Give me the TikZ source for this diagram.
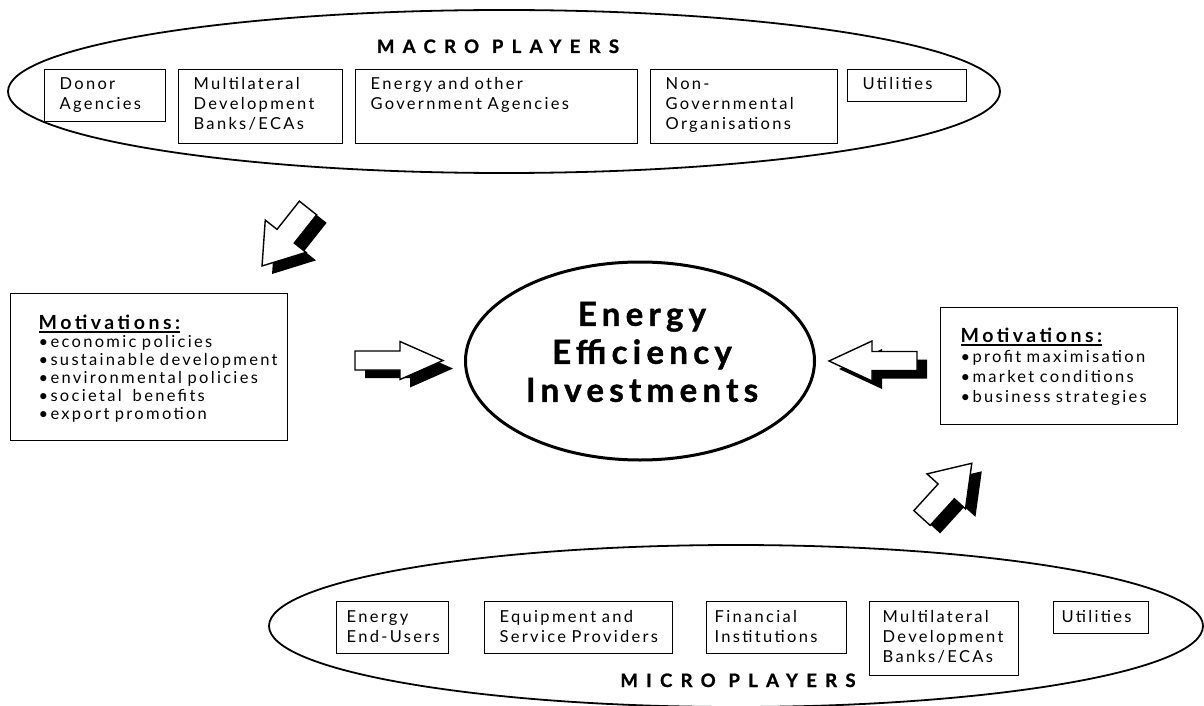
\documentclass[tikz,border=0pt]{standalone}
\usepackage{fontspec}
\setmainfont{Lato}
\newfontfamily\plainfont{Lato}[LetterSpace=14]
\newfontfamily\titlefont{Lato}[LetterSpace=45, BoldFeatures={FakeBold=1.2}]
\newfontfamily\headfont{Lato}[LetterSpace=18]
\newfontfamily\bigfont{Lato}[LetterSpace=16, BoldFeatures={FakeBold=1.2}]
\usetikzlibrary{shapes.geometric}

% left padding inside a framed text box
\newcommand{\padleft}[1]{\leftskip=#1pt\relax}
% thick underline for the headings
\newcommand{\ulbox}[1]{\setbox0=\hbox{#1}\rlap{\rule[-3.5pt]{\wd0}{1.8pt}}\box0}
\newcommand{\headline}[1]{{\headfont\bfseries\fontsize{19.5}{18}\selectfont\ulbox{#1}}}

% block arrow with a solid black drop shadow:
% #1,#2 tail centre, #3 direction, #4 length, #5 half shaft, #6 half head, #7 head length
\newcommand{\shadearrow}[7]{%
  \fill[black, shift={(#1+10,#2+8)}, rotate=#3]
    (0,-#5) -- ({#4-#7},-#5) -- ({#4-#7},-#6) -- (#4,0) -- ({#4-#7},#6) -- ({#4-#7},#5) -- (0,#5) -- cycle;
  \filldraw[fill=white, draw=black, line width=1.4pt, line join=miter, shift={(#1,#2)}, rotate=#3]
    (0,-#5) -- ({#4-#7},-#5) -- ({#4-#7},-#6) -- (#4,0) -- ({#4-#7},#6) -- ({#4-#7},#5) -- (0,#5) -- cycle;
}

\tikzset{
  frame/.style={draw, line width=1.3pt, anchor=north west, inner sep=0pt, align=left,
    font={\plainfont\fontsize{16.5}{20}\selectfont}},
  ring/.style={ellipse, draw, line width=1.8pt, inner sep=0pt},
  grouptitle/.style={anchor=base, inner sep=0pt,
    font={\titlefont\bfseries\fontsize{18.5}{20}\selectfont}},
  bigtitle/.style={align=center, inner sep=0pt,
    font={\bigfont\bfseries\fontsize{33}{38}\selectfont}},
  motbox/.style={frame, font={\plainfont\fontsize{16.5}{18}\selectfont}}
}

\begin{document}
\begin{tikzpicture}[x=1pt, y=-1pt]
\useasboundingbox (0,0) rectangle (1204,706);

% ---- macro players ----
\node[ring, minimum width=992pt, minimum height=163pt] (macro) at (504,91.5) {};
\node[grouptitle] (macrotitle) at (498,53) {MACRO PLAYERS};
\node[frame, text width=121pt, text height=20pt, text depth=32pt] (donor) at (44,69)
  {\padleft{15}Donor\\Agencies\par};
\node[frame, text width=164pt, text height=20pt, text depth=54pt] (mdbtop) at (178,69)
  {\padleft{15}Multilateral\\Development\\Banks/ECAs\par};
\node[frame, text width=282pt, text height=20pt, text depth=54pt] (govag) at (355,69)
  {\padleft{15}Energy and other\\Government Agencies\par};
\node[frame, text width=187pt, text height=20pt, text depth=54pt] (ngo) at (650,69)
  {\padleft{15}Non-\\Governmental\\Organisations\par};
\node[frame, text width=119pt, text height=20pt, text depth=12pt] (utiltop) at (847,69)
  {\padleft{15}Utilities\par};

% ---- centre ----
\node[ring, line width=3pt, minimum width=349pt, minimum height=198pt] (eei) at (640,361) {};
\node[bigtitle] (eeitext) at (642,352) {Energy\\Efficiency\\Investments};

% ---- motivations ----
\node[motbox, text width=277pt, text height=36pt, text depth=111pt] (motmacro) at (10,293)
  {\padleft{28}\headline{Motivations:}\\
   \textbullet economic policies\\
   \textbullet sustainable development\\
   \textbullet environmental policies\\
   \textbullet societal\ \ benefits\\
   \textbullet export promotion\par};
\node[frame, text width=237pt, text height=35pt, text depth=82pt] (motmicro) at (940,307)
  {\padleft{20}\headline{Motivations:}\\
   \textbullet profit maximisation\\
   \textbullet market conditions\\
   \textbullet business strategies\par};

% ---- arrows ----
\shadearrow{308}{208}{-128.4}{74}{11}{26}{38}
\shadearrow{355}{360.5}{0}{88}{9.5}{19}{43}
\shadearrow{917}{361}{180}{88}{9.5}{20}{43}
\shadearrow{922}{518}{47.7}{74}{11}{26}{38}

% ---- micro players ----
\node[ring, minimum width=934pt, minimum height=162pt] (micro) at (736,626) {};
\node[grouptitle] (microtitle) at (738,687) {MICRO PLAYERS};
\node[frame, text width=112pt, text height=21pt, text depth=31pt] (endusers) at (336,601)
  {\padleft{10}Energy\\End-Users\par};
\node[frame, text width=188pt, text height=21pt, text depth=31pt] (equip) at (484,601)
  {\padleft{15}Equipment and\\Service Providers\par};
\node[frame, text width=140pt, text height=21pt, text depth=31pt] (fin) at (706,601)
  {\padleft{8}Financial\\Institutions\par};
\node[frame, text width=149pt, text height=21pt, text depth=53pt] (mdbbot) at (869,601)
  {\padleft{13}Multilateral\\Development\\Banks/ECAs\par};
\node[frame, text width=95pt, text height=21pt, text depth=11pt] (utilbot) at (1053,601)
  {\padleft{8}Utilities\par};
\end{tikzpicture}
\end{document}
